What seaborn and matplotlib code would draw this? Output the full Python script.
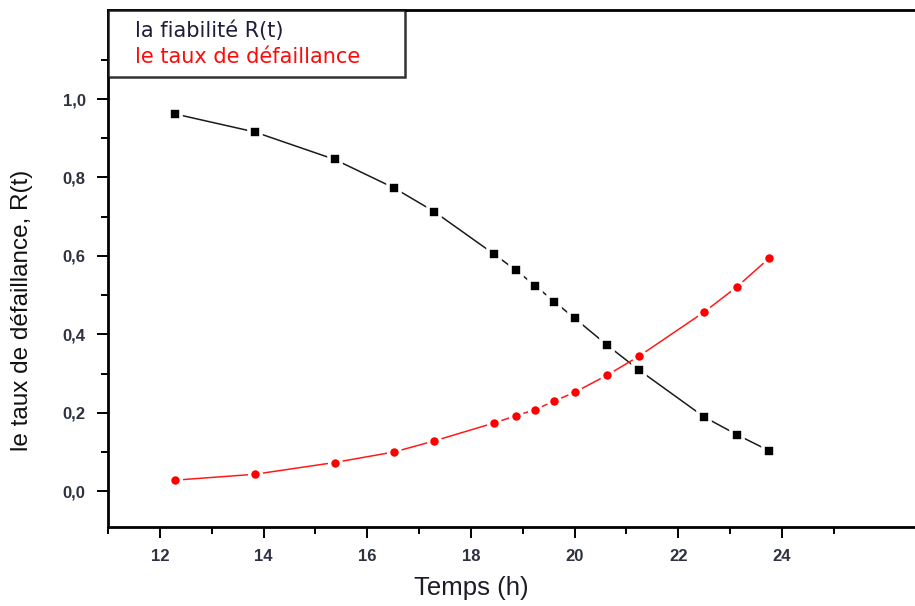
import matplotlib
matplotlib.use("Agg")
import matplotlib.pyplot as plt
from matplotlib.lines import Line2D
import seaborn as sns
import pandas as pd

# Operating time (h) at each observation
temps = [12.29, 13.83, 15.37, 16.52, 17.29, 18.45, 18.86, 19.24, 19.61,
         20.00, 20.63, 21.24, 22.50, 23.13, 23.75]
# Reliability R(t)
fiabilite = [0.962, 0.916, 0.846, 0.773, 0.713, 0.604, 0.564, 0.524, 0.483,
             0.441, 0.372, 0.309, 0.189, 0.144, 0.103]
# Failure rate
taux = [0.028, 0.043, 0.073, 0.100, 0.128, 0.174, 0.192, 0.208, 0.230,
        0.252, 0.296, 0.344, 0.457, 0.521, 0.594]

x_major = [12, 14, 16, 18, 20, 22, 24]
x_minor = [11, 13, 15, 17, 19, 21, 23, 25]
y_major = [0.0, 0.2, 0.4, 0.6, 0.8, 1.0]
y_minor = [0.1, 0.3, 0.5, 0.7, 0.9, 1.1]
y_labels = ["0,0", "0,2", "0,4", "0,6", "0,8", "1,0"]

df = pd.DataFrame({"temps": temps, "fiabilite": fiabilite, "taux": taux})

sns.set_theme(style="white")
plt.rcParams["font.family"] = ["Liberation Sans", "DejaVu Sans"]

fig = plt.figure(figsize=(9.15, 6.06), dpi=100)
ax = fig.add_axes([0.118, 0.130, 0.9067, 0.8535])

sns.lineplot(data=df, x="temps", y="fiabilite", ax=ax, sort=False,
             estimator=None, color="#1a1a1a", linewidth=1.1,
             marker="s", markersize=8.5, markerfacecolor="black",
             markeredgecolor="white", markeredgewidth=2.6, zorder=3)
sns.lineplot(data=df, x="temps", y="taux", ax=ax, sort=False,
             estimator=None, color="#ff1a1a", linewidth=1.1,
             marker="o", markersize=8.5, markerfacecolor="#ff0000",
             markeredgecolor="white", markeredgewidth=2.4, zorder=4)

ax.set_xlim(11, 27)
ax.set_ylim(-0.092, 1.227)

ax.set_xticks(x_major)
ax.set_xticks(x_minor, minor=True)
ax.set_xticklabels([str(v) for v in x_major])
ax.set_yticks(y_major)
ax.set_yticks(y_minor, minor=True)
ax.set_yticklabels(y_labels)

tick_col = "#2e3140"
ax.tick_params(axis="both", which="major", direction="out", length=8,
               width=1.4, color="black", labelsize=12, labelcolor=tick_col,
               bottom=True, left=True, pad=8)
ax.tick_params(axis="both", which="minor", direction="out", length=5,
               width=1.4, color="black", bottom=True, left=True)
for lab in ax.get_xticklabels() + ax.get_yticklabels():
    lab.set_fontweight("bold")

for side in ["left", "bottom", "top"]:
    ax.spines[side].set_visible(True)
    ax.spines[side].set_color("black")
    ax.spines[side].set_linewidth(2.0)
ax.spines["right"].set_visible(False)

ax.set_xlabel("Temps (h)", fontsize=18.5, color="#1c1c28")
ax.xaxis.set_label_coords(0.438, -0.095)
ax.xaxis.label.set_va("top")
ax.set_ylabel("le taux de défaillance, R(t)", fontsize=17.5, color="#111111")
ax.yaxis.set_label_coords(-0.1037, 0.42)
ax.yaxis.label.set_va("center")

handles = [Line2D([], [], linestyle="none"), Line2D([], [], linestyle="none")]
leg = ax.legend(handles, ["la fiabilité R(t)", "le taux de défaillance"],
                loc="upper left", bbox_to_anchor=(0.0, 1.0, 0.358, 0.0),
                mode="expand", borderaxespad=0,
                handlelength=0.8, handletextpad=0.0,
                prop={"family": "DejaVu Sans", "size": 15},
                labelcolor=["#1e1e3a", "#ff0a0a"], frameon=True,
                fancybox=False, edgecolor="black", borderpad=0.5,
                labelspacing=0.28)
leg.get_frame().set_linewidth(1.8)
leg.get_frame().set_facecolor("white")
leg.set_zorder(10)

fig.savefig("out.png", dpi=100, facecolor="white")
